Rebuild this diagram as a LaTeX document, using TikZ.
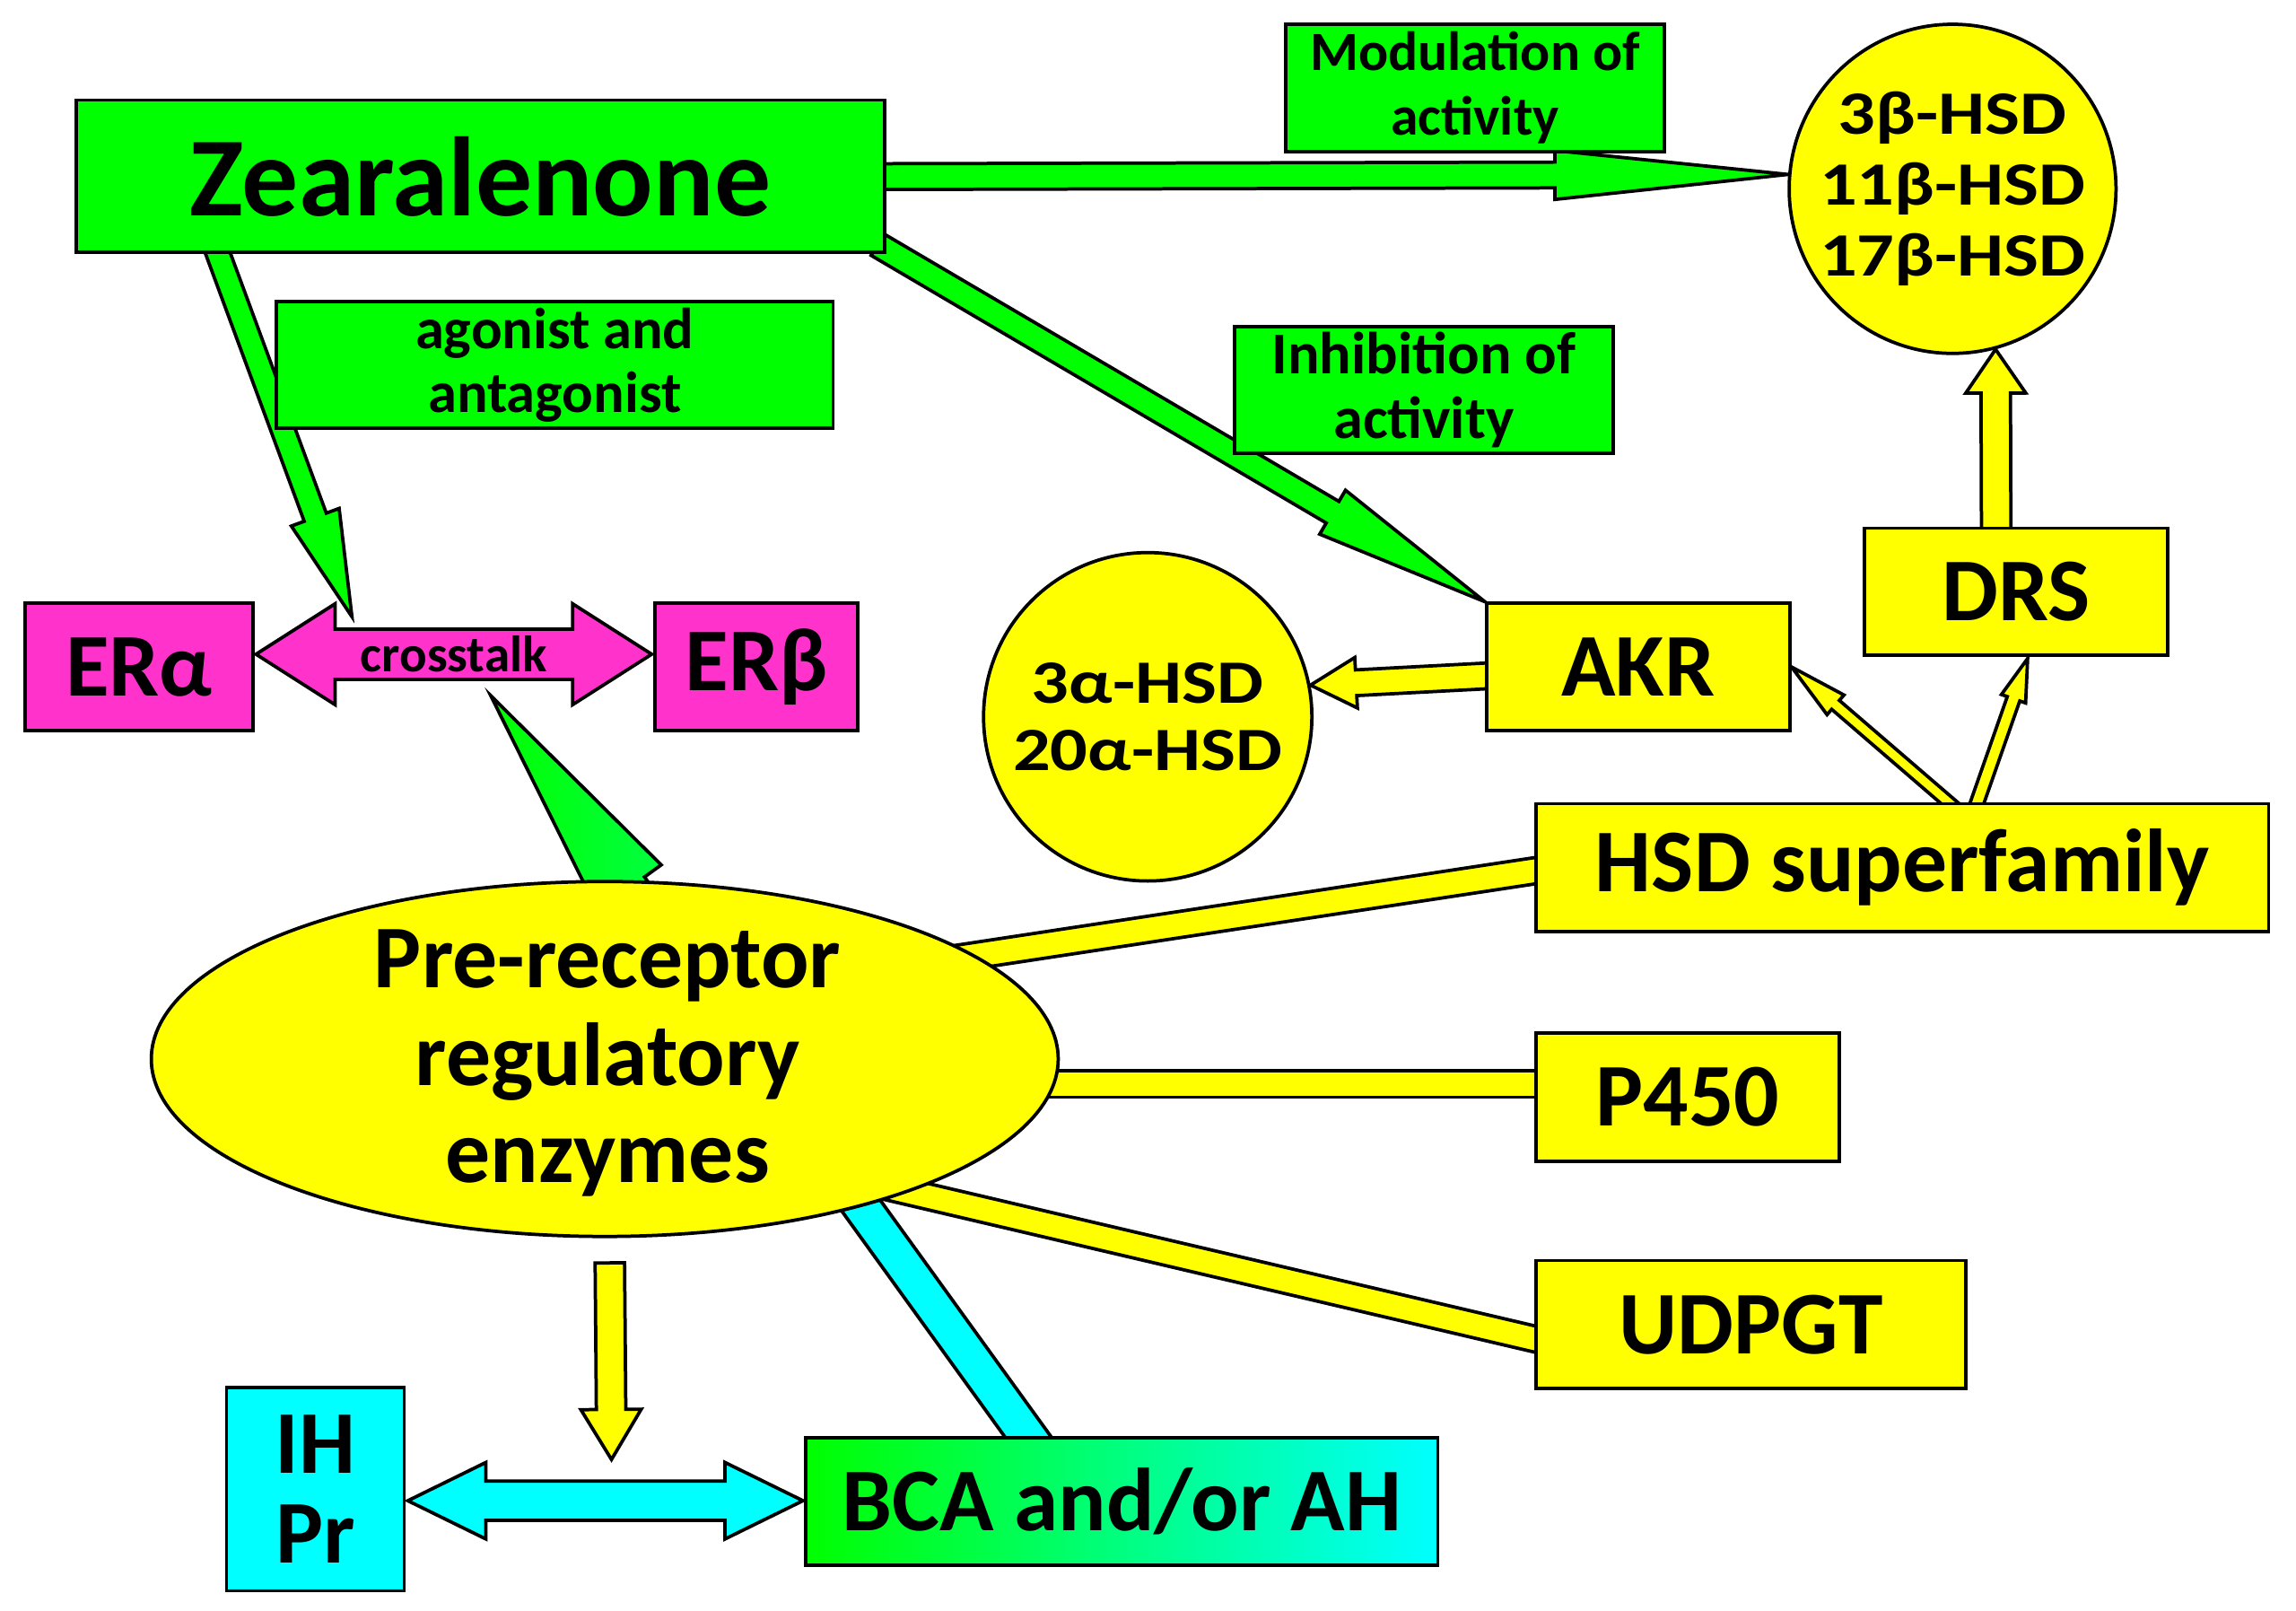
\documentclass[tikz,border=0pt]{standalone}
\usepackage{fontspec}
\setmainfont{Carlito}
\newfontfamily\widefont{Carlito}[FakeStretch=1.2]
\usetikzlibrary{calc,shapes.geometric}
\pgfdeclarelayer{background}
\pgfsetlayers{background,main}
\definecolor{zgreen}{HTML}{00FF00}
\definecolor{zgreenb}{HTML}{00FF55}
\definecolor{zyellow}{HTML}{FFFF00}
\definecolor{zmag}{HTML}{FF33CC}
\definecolor{zcyan}{HTML}{00FFFF}
% block arrow: [style]{start}{tip}{shaft half width}{head half width}{head length}
\newcommand{\blockarrow}[6][]{%
  \coordinate (bah) at ($(#3)!#6!(#2)$);
  \path[#1] ($(#2)!#4!90:(#3)$) -- ($(bah)!#4!90:(#3)$) -- ($(bah)!#5!90:(#3)$) -- (#3)
    -- ($(bah)!#5!-90:(#3)$) -- ($(bah)!#4!-90:(#3)$) -- ($(#2)!#4!-90:(#3)$) -- cycle;}
% double block arrow: [style]{tip1}{tip2}{shaft half}{head half}{head length}
\newcommand{\dblarrow}[6][]{%
  \coordinate (daa) at ($(#2)!#6!(#3)$);
  \coordinate (dab) at ($(#3)!#6!(#2)$);
  \path[#1] (#2) -- ($(daa)!#5!90:(#3)$) -- ($(daa)!#4!90:(#3)$) -- ($(dab)!#4!-90:(#2)$)
    -- ($(dab)!#5!-90:(#2)$) -- (#3) -- ($(dab)!#5!90:(#2)$) -- ($(dab)!#4!90:(#2)$)
    -- ($(daa)!#4!-90:(#3)$) -- ($(daa)!#5!-90:(#3)$) -- cycle;}
% thick band: [style]{start}{end}{half width}
\newcommand{\band}[4][]{%
  \coordinate (bnde) at ($(#3)!-0.15cm!(#2)$);
  \path[#1] ($(#2)!#4!90:(bnde)$) -- ($(bnde)!#4!-90:(#2)$) -- ($(bnde)!#4!90:(#2)$)
    -- ($(#2)!#4!-90:(bnde)$) -- cycle;}
\tikzset{
  box/.style={draw, line width=0.65pt, inner sep=0pt, align=center},
  gbox/.style={box, fill=zgreen, font=\bfseries\fontsize{11.2}{12.45}\selectfont},
  ybox/.style={box, fill=zyellow, font=\bfseries\fontsize{17.3}{19}\selectfont},
  mbox/.style={box, fill=zmag, font=\bfseries\fontsize{17.3}{19}\selectfont},
  circ/.style={box, ellipse, fill=zyellow},
  circtext/.style={inner sep=0pt, align=center, font=\widefont\bfseries\fontsize{11.9}{13.7}\selectfont},
  outl/.style={draw, line width=0.65pt, line join=miter},
  garrow/.style={outl, fill=zgreen},
  wedgearrow/.style={outl, left color=zgreen, right color=zgreenb},
  yarrow/.style={outl, fill=zyellow},
  marrow/.style={outl, fill=zmag},
  carrow/.style={outl, fill=zcyan},
  lbl/.style={inner sep=0pt, font=\bfseries\fontsize{9.9}{11}\selectfont}
}
\begin{document}
\begin{tikzpicture}[x=0.01cm, y=-0.01cm]
\useasboundingbox (0,0) rectangle (1560.4,1094.5);
% nodes
\node[gbox, minimum width=5.49cm, minimum height=1.035cm, font=\bfseries\fontsize{21.8}{26}\selectfont] (zea) at (326.5,119.75) {Zearalenone};
\node[gbox, minimum width=2.57cm, minimum height=0.865cm, font=\bfseries\fontsize{10.7}{12.45}\selectfont] (mod) at (1002.5,59.75) {Modulation of\\activity};
\node[circ, minimum width=2.22cm, minimum height=2.235cm] (hsdb) at (1327,128.3) {};
\node[circtext] (hsdbt) at (hsdb.center) {3β-HSD\\11β-HSD\\17β-HSD};
\node[gbox, minimum width=3.78cm, minimum height=0.86cm] (ago) at (377,248) {agonist and\\antagonist};
\node[gbox, minimum width=2.574cm, minimum height=0.86cm, font=\bfseries\fontsize{11.5}{12.45}\selectfont] (inh) at (967.7,265) {Inhibition of\\activity};
\node[mbox, minimum width=1.55cm, minimum height=0.865cm] (era) at (94.5,453.25) {ERα};
\node[mbox, minimum width=1.38cm, minimum height=0.865cm] (erb) at (514,453.25) {ERβ};
\node[circ, minimum width=2.23cm, minimum height=2.23cm] (hsda) at (780,487) {};
\node[circtext, font=\widefont\bfseries\fontsize{11.9}{12.95}\selectfont] (hsdat) at (hsda.center) {3α-HSD\\20α-HSD};
\node[ybox, minimum width=2.06cm, minimum height=0.863cm] (akr) at (1113.35,453.15) {AKR};
\node[ybox, minimum width=2.06cm, minimum height=0.864cm] (drs) at (1370,402) {DRS};
\node[ybox, minimum width=4.977cm, minimum height=0.87cm] (hsdsf) at (1292.85,589.5) {HSD superfamily};
\node[circ, minimum width=6.16cm, minimum height=2.41cm] (pre) at (411,719.5) {};
\node[inner sep=0pt, align=center, font=\bfseries\fontsize{17.3}{18.8}\selectfont] (pret) at ($(pre.center)+(2,3)$) {Pre-receptor\\regulatory\\enzymes};
\node[ybox, minimum width=2.06cm, minimum height=0.87cm] (p450) at (1147,745.35) {P450};
\node[ybox, minimum width=2.92cm, minimum height=0.868cm] (udpgt) at (1190,899.9) {UDPGT};
\node[box, fill=zcyan, minimum width=1.206cm, minimum height=1.379cm, font=\bfseries\fontsize{17.3}{17.4}\selectfont] (ihpr) at (214.3,1011.85) {IH\\Pr};
\node[box, left color=zgreen, right color=zcyan, minimum width=4.292cm, minimum height=0.864cm, font=\bfseries\fontsize{17.3}{19}\selectfont] (bca) at (762.4,1020.1) {BCA and/or AH};
% connectors
\begin{pgfonlayer}{background}
  % bands from the pre-receptor ellipse
  \coordinate (b1s) at ($(pre.center)+(189,-60.8)$);
  \coordinate (b1e) at ($(hsdsf.west)+(0,2.15)$);
  \band[yarrow]{b1s}{b1e}{0.0885cm}
  \coordinate (b2s) at ($(pre.center)+(200,16.9)$);
  \coordinate (b2e) at ($(p450.west)+(0,-8.95)$);
  \band[yarrow]{b2s}{b2e}{0.091cm}
  \coordinate (b3s) at ($(pre.center)+(189,86.3)$);
  \coordinate (b3e) at ($(udpgt.west)+(0,9.8)$);
  \band[yarrow]{b3s}{b3e}{0.087cm}
  \coordinate (b4s) at ($(pre.center)+(145.9,60.5)$);
  \coordinate (b4e) at ($(bca.north)+(-64.1,0)$);
  \band[carrow]{b4s}{b4e}{0.1275cm}
  % crosstalk double arrow
  \coordinate (ctl) at ($(era.east)+(0.8,-8.75)$);
  \coordinate (ctr) at ($(erb.west)+(-0.9,-8.75)$);
  \dblarrow[marrow]{ctl}{ctr}{0.171cm}{0.3425cm}{0.537cm}
  \node[lbl] (ct) at ($(ctl)!0.5!(ctr)$) {crosstalk};
  % Zearalenone -> 3beta circle
  \coordinate (a1s) at ($(zea.east)+(-10,0.25)$);
  \blockarrow[garrow]{a1s}{hsdb.175.6}{0.0875cm}{0.166cm}{1.584cm}
  % Zearalenone -> AKR
  \coordinate (a2s) at ($(zea.south east)+(-6,-6.5)$);
  \blockarrow[garrow]{a2s}{akr.north west}{0.085cm}{0.173cm}{1.20cm}
  % Zearalenone -> crosstalk
  \coordinate (a3s) at ($(zea.south west)+(95.2,-6.5)$);
  \coordinate (a3e) at ($(ctl)+(65.2,-25.5)$);
  \blockarrow[garrow]{a3s}{a3e}{0.08cm}{0.173cm}{0.72cm}
  % pre-receptor -> crosstalk wedge
  \coordinate (a4s) at ($(pre.center)+(68.4,-44.8)$);
  \coordinate (ctip) at ($(ctl)+(159.5,28.1)$);
  \blockarrow[wedgearrow]{a4s}{ctip}{0.126cm}{0.266cm}{1.61cm}
  % AKR -> 3alpha circle
  \coordinate (a5s) at ($(akr.west)+(10,5.6)$);
  \blockarrow[yarrow]{a5s}{hsda.11.4}{0.0875cm}{0.1715cm}{0.31cm}
  % DRS -> 3beta circle
  \coordinate (a6s) at ($(drs.north)+(-13.35,10)$);
  \blockarrow[yarrow]{a6s}{hsdb.-75}{0.10cm}{0.204cm}{0.297cm}
  % HSD superfamily -> AKR, DRS
  \coordinate (a7s) at ($(hsdsf.north)+(39.75,7.4)$);
  \blockarrow[yarrow]{a7s}{akr.east}{0.04cm}{0.088cm}{0.394cm}
  \coordinate (a8s) at ($(hsdsf.north)+(47.4,10.3)$);
  \coordinate (a8e) at ($(drs.south)+(8,1)$);
  \blockarrow[yarrow]{a8s}{a8e}{0.045cm}{0.087cm}{0.29cm}
  % IH/Pr <-> BCA
  \coordinate (cyl) at ($(ihpr.east)+(1.4,7.75)$);
  \coordinate (cyr) at ($(bca.west)+(-0.8,-0.5)$);
  \dblarrow[carrow]{cyl}{cyr}{0.133cm}{0.26cm}{0.53cm}
  % pre-receptor -> down
  \coordinate (a9s) at ($(pre.south)+(3.45,16.8)$);
  \coordinate (a9e) at ($(cyl)+(138.4,-28)$);
  \blockarrow[yarrow]{a9s}{a9e}{0.10cm}{0.205cm}{0.34cm}
\end{pgfonlayer}
\end{tikzpicture}
\end{document}
